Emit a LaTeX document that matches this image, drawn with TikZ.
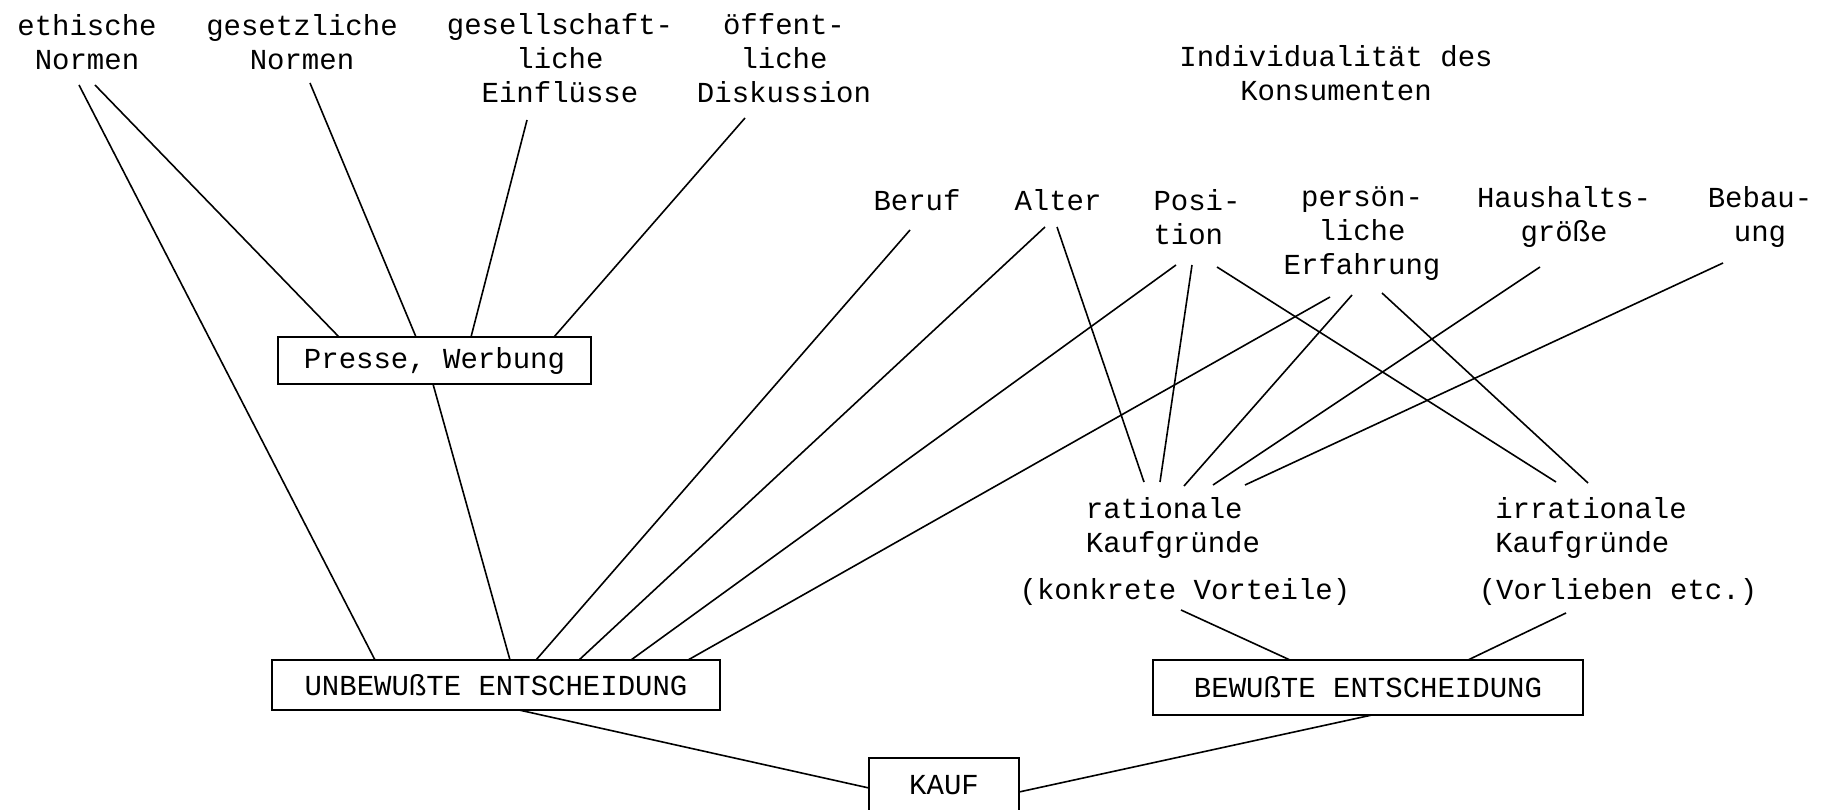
\documentclass[tikz,border=0pt]{standalone}
\usepackage{fontspec}
\setmonofont{Liberation Mono}
\usetikzlibrary{calc}
\begin{document}
\begin{tikzpicture}[x=1pt,y=-1pt,
  txt/.style={font=\ttfamily\fontsize{29}{34}\selectfont, align=center, inner sep=0pt, outer sep=0pt},
  txtl/.style={txt, align=left},
  box/.style={draw, line width=2pt, inner sep=0pt, outer sep=0pt, font=\ttfamily\fontsize{29}{34}\selectfont},
  con/.style={line width=1.6pt}]
\useasboundingbox[fill=white] (0,0) rectangle (1834,810);

% top-left texts
\node[txt] (eth) at (87,42) {ethische\\Normen};
\node[txt] (ges) at (302,42) {gesetzliche\\Normen};
\node[txt] (gsf) at (560,58) {gesellschaft-\\liche\\Einflüsse};
\node[txt] (oef) at (784,58) {öffent-\\liche\\Diskussion};

% individuality
\node[txt] (ind) at (1336,73) {Individualität des\\Konsumenten};
\node[txt] (beruf) at (917,200) {Beruf};
\node[txt] (alter) at (1058,200) {Alter};
\node[txtl] (pos) at (1197,217) {Posi-\\tion};
\node[txt] (pers) at (1362,234) {persön-\\liche\\Erfahrung};
\node[txt] (haus) at (1564,217) {Haushalts-\\größe};
\node[txt] (beb) at (1760,217) {Bebau-\\ung};

% reasons
\node[txtl] (rat) at (1173,527.5) {rationale\\Kaufgründe};
\node[txtl] (irr) at (1591,527.5) {irrationale\\Kaufgründe};
\node[txt] (konk) at (1185,592) {(konkrete Vorteile)};
\node[txt] (vorl) at (1618,592) {(Vorlieben etc.)};

% boxes
\node[box, minimum width=313pt, minimum height=47pt] (presse) at (434.5,360.5) {Presse, Werbung};
\node[box, minimum width=448pt, minimum height=50pt] (unb) at (496,685) {UNBEWUßTE ENTSCHEIDUNG};
\node[box, minimum width=430pt, minimum height=55pt] (bew) at (1368,687.5) {BEWUßTE ENTSCHEIDUNG};
\node[box, minimum width=150pt, minimum height=54pt] (kauf) at (944,785) {KAUF};

% connectors
\draw[con] ($(eth)+(-8,43)$) -- ($(unb.north)+(-121,0)$);
\draw[con] ($(eth)+(8,43)$) -- ($(presse.north)+(-95.5,0)$);
\draw[con] ($(ges)+(8,41)$) -- ($(presse.north)+(-18.5,0)$);
\draw[con] ($(gsf)+(-33,62)$) -- ($(presse.north)+(36.5,0)$);
\draw[con] ($(oef)+(-39,60)$) -- ($(presse.north)+(119.5,0)$);
\draw[con] ($(presse.south)+(-1.5,0)$) -- ($(unb.north)+(14,0)$);
\draw[con] ($(beruf)+(-7,30)$) -- ($(unb.north)+(40,0)$);
\draw[con] ($(alter)+(-13,27)$) -- ($(unb.north)+(83,0)$);
\draw[con] ($(alter)+(-1,27)$) -- ($(rat)+(-29,-45.5)$);
\draw[con] ($(pos)+(-21,48)$) -- ($(unb.north)+(135,0)$);
\draw[con] ($(pos)+(-5,48)$) -- ($(rat)+(-13,-45.5)$);
\draw[con] ($(pos)+(20,50)$) -- ($(irr)+(-35,-45.5)$);
\draw[con] ($(pers)+(-32,63)$) -- ($(unb.north)+(192,0)$);
\draw[con] ($(pers)+(-10,61)$) -- ($(rat)+(11,-41.5)$);
\draw[con] ($(pers)+(20,59)$) -- ($(irr)+(-3,-44.5)$);
\draw[con] ($(haus)+(-24,50)$) -- ($(rat)+(40,-42.5)$);
\draw[con] ($(beb)+(-37,46)$) -- ($(rat)+(72,-42.5)$);
\draw[con] ($(konk)+(-4,18)$) -- ($(bew.north)+(-78,0)$);
\draw[con] ($(vorl)+(-52,21)$) -- ($(bew.north)+(100,0)$);
\draw[con] ($(unb.south)+(23,0)$) -- ($(kauf.west)+(0,3)$);
\draw[con] ($(bew.south)+(4,0)$) -- ($(kauf.east)+(0,7)$);
\end{tikzpicture}
\end{document}
